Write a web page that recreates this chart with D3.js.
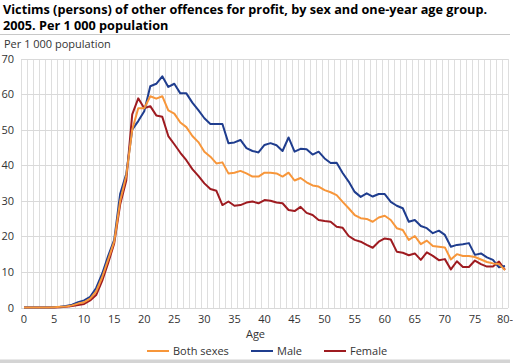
<!DOCTYPE html>
<html>
<head>
<meta charset="utf-8">
<script src="https://cdn.jsdelivr.net/npm/d3@7"></script>
<style>
  body { margin: 0; background: #fff; }
  svg { display: block; font-family: "Open Sans", sans-serif; }
  .grid line { stroke: #d9d9d9; stroke-width: 1; shape-rendering: crispEdges; }
  .vgrid line { stroke: #dedede; stroke-width: 1; shape-rendering: crispEdges; }
  .tick-label { font-size: 11px; fill: #333; }
</style>
</head>
<body>
<svg id="chart"></svg>
<script>
const W = 513, H = 363;

// ages 0..80 (last one is "80-")
const ages = d3.range(0, 81);
const xTickLabels = ["0", "5", "10", "15", "20", "25", "30", "35", "40", "45", "50", "55", "60", "65", "70", "75", "80-"];
const yTicks = [0, 10, 20, 30, 40, 50, 60, 70];

const bothSexes = [
  0, 0, 0, 0, 0, 0.1, 0.2, 0.3, 0.6, 1.1,
  1.5, 2.5, 4.5, 8.5, 13.5, 18.5, 30, 37, 50, 56,
  56, 59.4, 58.7, 59.4, 55.4, 54.5, 52, 50.7, 48.2, 46.5,
  43.8, 42.4, 40.5, 40.8, 37.7, 37.9, 38.4, 37.7, 36.8, 36.8,
  37.9, 37.9, 37.7, 36.8, 37.9, 35.7, 36.4, 35.2, 34.3, 34,
  33, 32.4, 31.6, 29.7, 27.9, 26, 25.1, 24.9, 24.1, 25.3,
  25.8, 24.6, 22.3, 21.8, 19, 20.1, 17.8, 18.8, 17.3, 17.1,
  16.9, 13.5, 15, 14.5, 14.5, 14.2, 13.5, 12.8, 12.4, 12.2,
  10.5
];
const male = [
  0, 0, 0, 0, 0, 0.1, 0.2, 0.4, 0.8, 1.5,
  2, 3, 5.5, 9.5, 14.5, 19, 32, 37.5, 50, 52.4,
  55.2, 62.2, 62.9, 65, 62, 62.9, 60.2, 60.2, 57.6, 55.5,
  53.2, 51.6, 51.6, 51.6, 46.2, 46.4, 47.1, 44.8, 44, 43.6,
  45.7, 46.2, 45.6, 44, 47.8, 43.8, 44.6, 44.5, 43, 43.8,
  41.9, 40.6, 40.7, 37.8, 35.4, 32.5, 31.1, 32.1, 31.2, 31.9,
  31.9, 29.7, 28.6, 27.9, 24.1, 24.6, 22.9, 22.3, 20.9, 21.6,
  20.4, 17.1, 17.6, 17.8, 18.1, 14.8, 15.2, 14.1, 13.4, 11.3,
  11.7
];
const female = [
  0, 0, 0, 0, 0, 0, 0.1, 0.2, 0.4, 0.7,
  1, 2, 3.5, 7.5, 12.5, 18, 29, 35.6, 54.3, 58.8,
  56, 56.6, 54, 53.6, 48.2, 45.9, 43.5, 41.4, 38.9, 37,
  34.9, 33.3, 32.8, 28.8, 29.8, 28.6, 28.8, 29.5, 29.8, 29.3,
  30.2, 30, 29.5, 29.3, 27.4, 27.1, 28.3, 26.6, 26, 24.6,
  24.3, 24.1, 22.7, 22.4, 20.1, 19, 18.5, 17.6, 16.8, 18.5,
  19.4, 19.1, 15.7, 15.4, 14.7, 15.2, 13.4, 15.5, 14.5, 13.3,
  13.6, 10.7, 13, 11.4, 11.4, 13.2, 12.2, 11.5, 11.5, 12.9,
  10.6
];

const series = [
  { name: "Female", values: female, color: "#9e1b20" },
  { name: "Male", values: male, color: "#1f3d8e" },
  { name: "Both sexes", values: bothSexes, color: "#f7963a" }
];
const legendOrder = ["Both sexes", "Male", "Female"];

const svg = d3.select("#chart").attr("width", W).attr("height", H);

// title
const title = svg.append("g")
  .style("font-size", "12.7px").style("font-weight", "bold").style("fill", "#000");
title.append("text").attr("x", 3).attr("y", 13.5)
  .text("Victims (persons) of other offences for profit, by sex and one-year age group.");
title.append("text").attr("x", 3).attr("y", 30)
  .text("2005. Per 1 000 population");
svg.append("line").attr("x1", 0).attr("x2", 510).attr("y1", 34.5).attr("y2", 34.5)
  .attr("stroke", "#c8c8c8").attr("stroke-width", 1);

svg.append("text").attr("x", 4).attr("y", 48)
  .attr("class", "tick-label")
  .text("Per 1 000 population");

const x = d3.scaleLinear().domain([-0.5, 80.5]).range([21, 508]);
const y = d3.scaleLinear().domain([0, 70]).range([307.5, 58.5]);

// vertical grid at every category boundary
svg.append("g").attr("class", "vgrid")
  .selectAll("line")
  .data(d3.range(-0.5, 81, 1))
  .enter().append("line")
  .attr("x1", d => Math.round(x(d)) + 0.5)
  .attr("x2", d => Math.round(x(d)) + 0.5)
  .attr("y1", y(70))
  .attr("y2", y(0));

// horizontal grid
svg.append("g").attr("class", "grid")
  .selectAll("line")
  .data(yTicks)
  .enter().append("line")
  .attr("x1", x(-0.5))
  .attr("x2", x(80.5))
  .attr("y1", d => Math.round(y(d)) + 0.5)
  .attr("y2", d => Math.round(y(d)) + 0.5);

// y tick labels
svg.append("g").selectAll("text")
  .data(yTicks)
  .enter().append("text")
  .attr("class", "tick-label")
  .attr("x", 14)
  .attr("y", d => y(d) + 4)
  .attr("text-anchor", "end")
  .text(d => d);

// x tick labels
svg.append("g").selectAll("text")
  .data(xTickLabels)
  .enter().append("text")
  .attr("class", "tick-label")
  .attr("x", (d, i) => x(i * 5))
  .attr("y", 323)
  .attr("text-anchor", "middle")
  .text(d => d);

svg.append("text").attr("class", "tick-label")
  .attr("x", x(38.5)).attr("y", 338).attr("text-anchor", "middle")
  .text("Age");

// lines
const line = d3.line()
  .x((d, i) => x(ages[i]))
  .y(d => y(d));

svg.append("g").selectAll("path")
  .data(series)
  .enter().append("path")
  .attr("d", d => line(d.values))
  .attr("fill", "none")
  .attr("stroke", d => d.color)
  .attr("stroke-width", 2)
  .attr("stroke-linejoin", "round");

// legend
const legendPos = [
  { lx: 147, tx: 173 },
  { lx: 251, tx: 277 },
  { lx: 324, tx: 350 }
];
const legend = svg.append("g");
legendOrder.forEach((name, i) => {
  const s = series.find(d => d.name === name);
  legend.append("line")
    .attr("x1", legendPos[i].lx).attr("x2", legendPos[i].lx + 22)
    .attr("y1", 351).attr("y2", 351)
    .attr("stroke", s.color).attr("stroke-width", 2);
  legend.append("text").attr("class", "tick-label")
    .attr("x", legendPos[i].tx).attr("y", 355)
    .text(name);
});

// bottom bar
svg.append("rect").attr("x", 0).attr("y", 359.5).attr("width", 510).attr("height", 4)
  .attr("fill", "#d4d4d4");
</script>
</body>
</html>
